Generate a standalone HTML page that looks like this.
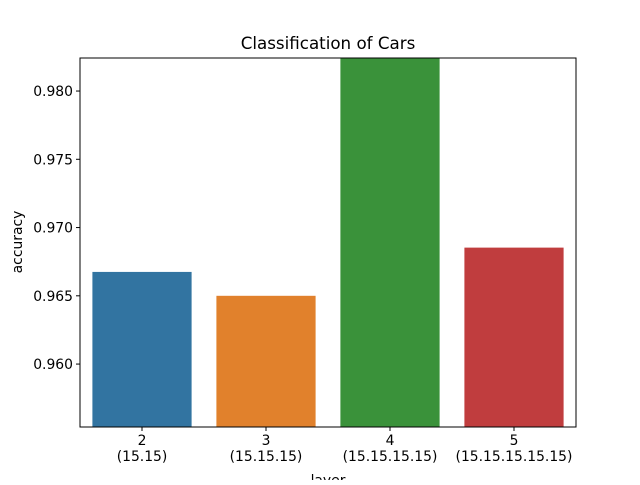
<!DOCTYPE html>
<html><head><meta charset="utf-8"><style>
body{margin:0;background:#fff;}
svg text{font-family:"DejaVu Sans","Liberation Sans",sans-serif;fill:#000;}
</style></head><body>
<svg id="chart" width="640" height="480">
<defs><clipPath id="plotclip"><rect x="80" y="58" width="496" height="369"/></clipPath></defs>
<text x="328" y="49" font-size="16.7" text-anchor="middle">Classification of Cars</text>
<g id="bars" clip-path="url(#plotclip)"></g>
<g id="yticks"></g>
<g id="xticks"></g>
<rect x="80" y="58" width="496" height="369" fill="none" stroke="#000" stroke-width="1"/>
<text transform="translate(22,242) rotate(-90)" font-size="13.9" text-anchor="middle">accuracy</text>
<text x="328" y="485" font-size="13.9" text-anchor="middle">layer</text>
</svg>
<script>
const categories = ["2\n(15.15)", "3\n(15.15.15)", "4\n(15.15.15.15)", "5\n(15.15.15.15.15)"];
const values = [0.96675, 0.9650, 0.9830, 0.96853];
const colors = ["#3274a1", "#e1812c", "#3a923a", "#c03d3e"];
const yTicks = [0.960, 0.965, 0.970, 0.975, 0.980];
const yTickLabels = ["0.960", "0.965", "0.970", "0.975", "0.980"];
const yMin = 0.95539, yMax = 0.98242;
const L = 80, R = 576, T = 58, B = 427;
const NS = "http://www.w3.org/2000/svg";
function y(v){ return B - (v - yMin) / (yMax - yMin) * (B - T); }
function xBand(i){ return L + (R - L) / categories.length * i; }
const bw = (R - L) / categories.length;
const gb = document.getElementById("bars"), gy = document.getElementById("yticks"), gx = document.getElementById("xticks");
values.forEach((v, i) => {
  const r = document.createElementNS(NS, "rect");
  r.setAttribute("x", xBand(i) + bw * 0.1);
  r.setAttribute("width", bw * 0.8);
  r.setAttribute("y", y(v));
  r.setAttribute("height", B - y(v));
  r.setAttribute("fill", colors[i]);
  
  
  gb.appendChild(r);
  const l = document.createElementNS(NS, "line");
  const cx = xBand(i) + bw / 2;
  l.setAttribute("x1", cx); l.setAttribute("x2", cx);
  l.setAttribute("y1", B); l.setAttribute("y2", B + 4);
  l.setAttribute("stroke", "#000");
  gx.appendChild(l);
  const t = document.createElementNS(NS, "text");
  t.setAttribute("text-anchor", "middle");
  t.setAttribute("font-size", "13.9");
  
  
  categories[i].split("\n").forEach((s, k) => {
    const ts = document.createElementNS(NS, "tspan");
    ts.setAttribute("x", cx);
    ts.setAttribute("y", B + 18 + k * 16);
    ts.textContent = s;
    t.appendChild(ts);
  });
  gx.appendChild(t);
});
yTicks.forEach((v, i) => {
  const l = document.createElementNS(NS, "line");
  l.setAttribute("x1", L - 4); l.setAttribute("x2", L);
  l.setAttribute("y1", y(v)); l.setAttribute("y2", y(v));
  l.setAttribute("stroke", "#000");
  gy.appendChild(l);
  const t = document.createElementNS(NS, "text");
  t.setAttribute("x", L - 7);
  t.setAttribute("y", y(v) + 5);
  t.setAttribute("text-anchor", "end");
  t.setAttribute("font-size", "13.9");
  
  
  t.textContent = yTickLabels[i];
  gy.appendChild(t);
});
</script>
</body></html>
